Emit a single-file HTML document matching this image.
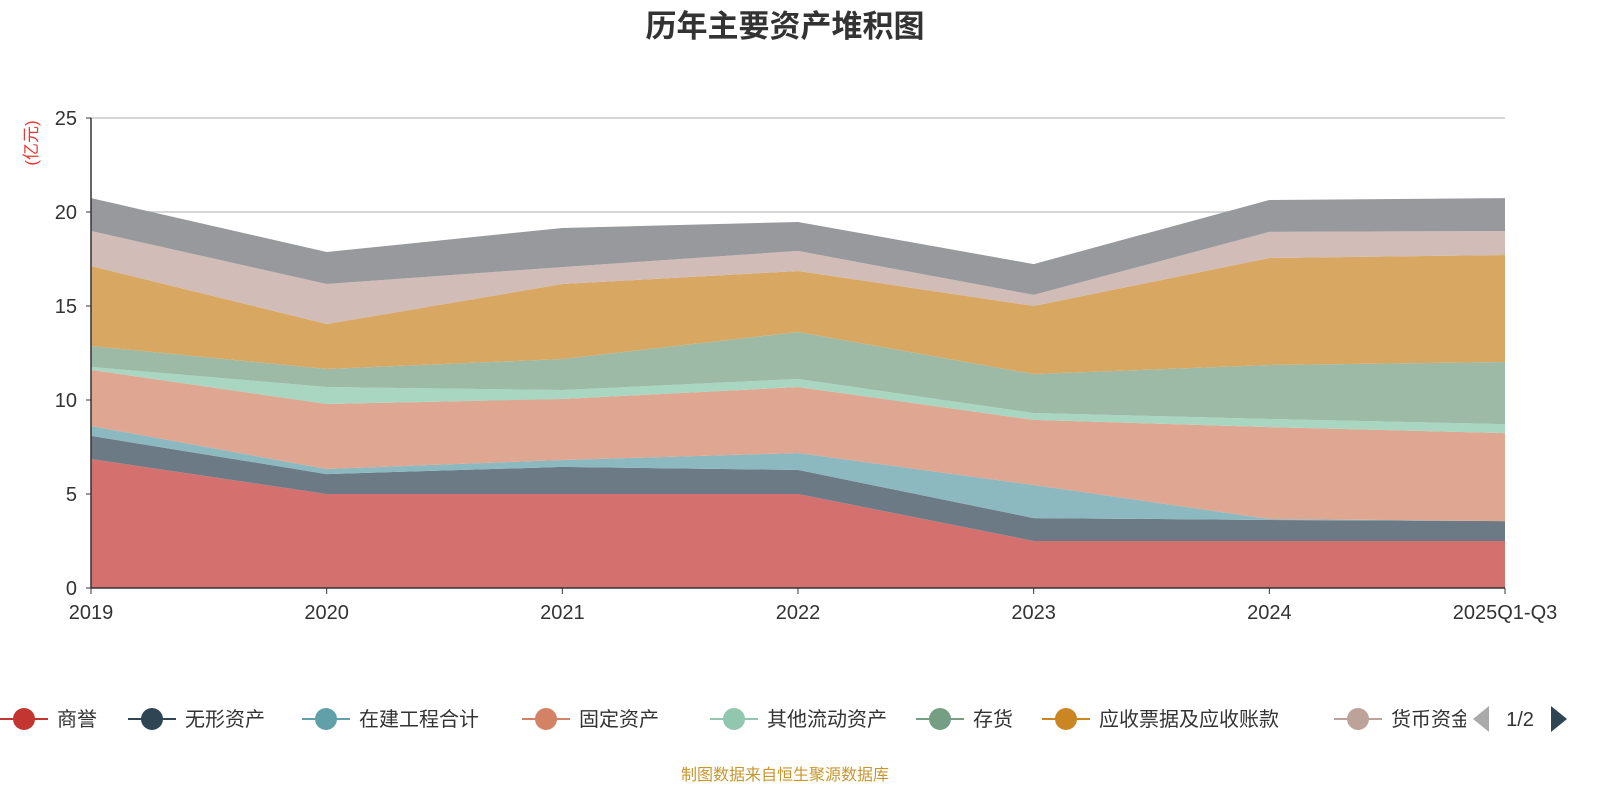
<!DOCTYPE html>
<html><head><meta charset="utf-8"><style>
body{margin:0;width:1600px;height:800px;background:#fff;overflow:hidden;font-family:"Liberation Sans","Noto Sans CJK SC",sans-serif;}
svg text{font-family:"Liberation Sans","Noto Sans CJK SC",sans-serif;}
</style></head><body>
<svg id="chart" width="1600" height="800">
<text x="785" y="37" text-anchor="middle" font-size="31" font-weight="bold" fill="#333">历年主要资产堆积图</text>
<text transform="translate(37,143) rotate(-90)" text-anchor="middle" font-size="17" fill="#e53935">(亿元)</text>
<g id="grid"></g><g id="areas"></g><g id="axes"></g><g id="legend"></g>
<text x="785" y="780" text-anchor="middle" font-size="16" fill="#c8962c">制图数据来自恒生聚源数据库</text>
</svg>
<script>
const categories=["2019","2020","2021","2022","2023","2024","2025Q1-Q3"];
const seriesNames=["商誉","无形资产","在建工程合计","固定资产","其他流动资产","存货","应收票据及应收账款","货币资金","其他"];
const goodwill=[6.86,5.0,5.0,5.0,2.5,2.5,2.5];
const intangible=[1.23,1.06,1.44,1.28,1.22,1.12,1.06];
const construction=[0.53,0.27,0.37,0.90,1.76,0.05,0.0];
const fixedAssets=[2.98,3.46,3.24,3.51,3.46,4.89,4.68];
const otherCurrent=[0.16,0.90,0.48,0.43,0.37,0.43,0.48];
const inventory=[1.11,0.96,1.65,2.50,2.07,2.87,3.30];
const receivables=[4.26,2.39,3.99,3.24,3.62,5.69,5.69];
const cash=[1.86,2.13,0.90,1.07,0.59,1.39,1.28];
const otherTop=[1.75,1.70,2.08,1.54,1.64,1.70,1.75];
const yTicks=[0,5,10,15,20,25];
const allSeries=[goodwill,intangible,construction,fixedAssets,otherCurrent,inventory,receivables,cash,otherTop];
const fills=["#d4706e","#6c7a86","#8cb8c0","#dfa691","#a8d6c0","#9dbaa6","#d8a863","#d1bcb7","#98999d"];
const lineColors=["#c23531","#2f4554","#61a0a8","#d48265","#91c7ae","#749f83","#ca8622","#bda29a"];
const NS="http://www.w3.org/2000/svg";
const x0=91,x1=1505,y0=588,y1=118;
const xs=i=>x0+(x1-x0)*i/(categories.length-1);
const ys=v=>y0-(y0-y1)*v/25;
function mk(t,a,p){const e=document.createElementNS(NS,t);for(const k in a)e.setAttribute(k,a[k]);p.appendChild(e);return e;}
const grid=document.getElementById('grid'),areas=document.getElementById('areas'),axes=document.getElementById('axes'),legend=document.getElementById('legend');
yTicks.forEach(v=>{
 if(v>0){const l=mk('line',{x1:x0,x2:x1,y1:ys(v),y2:ys(v),stroke:'#c8c8c8','stroke-width':1.5},grid);
 
 }
 const t=mk('text',{x:x0-14,y:ys(v)+7,'text-anchor':'end','font-size':20,fill:'#333'},axes);t.textContent=v;
 
 
 mk('line',{x1:x0-5,x2:x0,y1:ys(v),y2:ys(v),stroke:'#333'},axes);
});
let base=categories.map(()=>0);
allSeries.forEach((s,si)=>{
 const top=base.map((b,i)=>b+s[i]);
 let d='M'+top.map((v,i)=>xs(i)+','+ys(v)).join(' L');
 for(let i=categories.length-1;i>=0;i--)d+=' L'+xs(i)+','+ys(base[i]);
 const p=mk('path',{d:d+'Z',fill:fills[si]},areas);
 
 
 base=top;
});
mk('line',{x1:x0,x2:x0,y1:y1,y2:y0,stroke:'#333','stroke-width':1.5},axes);
mk('line',{x1:x0,x2:x1,y1:y0,y2:y0,stroke:'#333','stroke-width':1.5},axes);
categories.forEach((c,i)=>{
 mk('line',{x1:xs(i),x2:xs(i),y1:y0,y2:y0+6,stroke:'#333'},axes);
 const t=mk('text',{x:xs(i),y:y0+31,'text-anchor':'middle','font-size':20,fill:'#333'},axes);t.textContent=c;
 
 
});
const legX=[0,128,302,522,710,916,1042,1334];
lineColors.forEach((c,i)=>{
 const g=mk('g',{},legend);
 
 
 mk('line',{x1:legX[i],x2:legX[i]+48,y1:719,y2:719,stroke:c,'stroke-width':2},g);
 mk('circle',{cx:legX[i]+24,cy:719,r:11,fill:c},g);
 const t=mk('text',{x:legX[i]+57,y:726,'font-size':20,fill:'#333'},g);t.textContent=seriesNames[i];
});
const cover=mk('rect',{x:1466,y:700,width:134,height:40,fill:'#fff'},legend);
const pl=mk('path',{d:'M1489,706 L1473,719 L1489,732Z',fill:'#aaa'},legend);


const pt=mk('text',{x:1520,y:726,'text-anchor':'middle','font-size':20,fill:'#333'},legend);pt.textContent='1/2';


const pn=mk('path',{d:'M1551,706 L1567,719 L1551,732Z',fill:'#2f4554'},legend);


</script>
</body></html>
